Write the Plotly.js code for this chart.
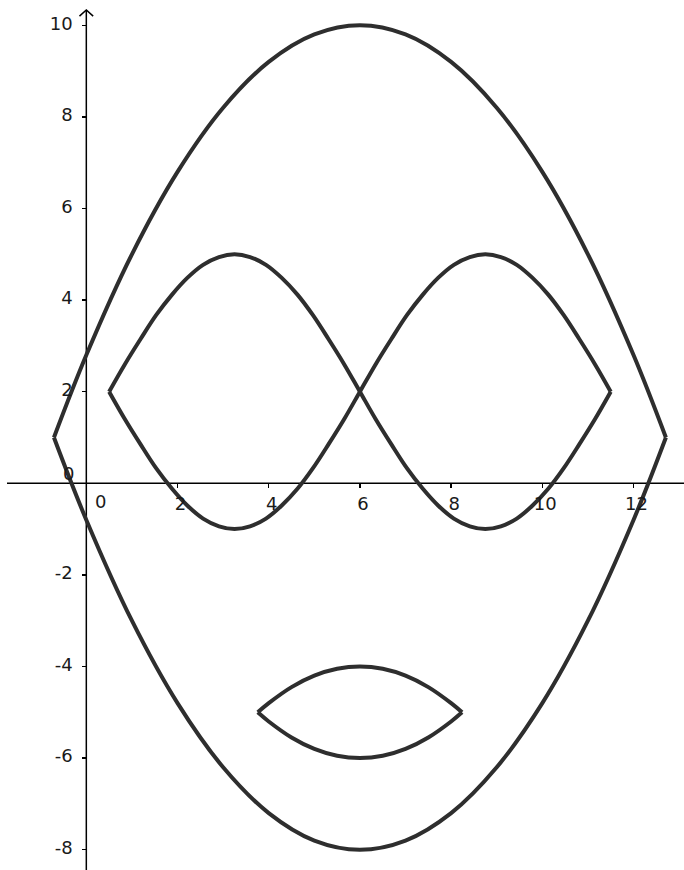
<!DOCTYPE html>
<html>
<head>
<meta charset="utf-8">
<script src="https://cdn.plot.ly/plotly-3.0.1.min.js"></script>
<style>html,body{margin:0;padding:0;background:#fff;}#chart{width:684px;height:870px;}</style>
</head>
<body>
<div id="chart"></div>
<script>
// ---- data ----
const outerTopX = [-0.71, 0, 1, 2, 3, 4, 5, 6, 7, 8, 9, 10, 11, 12, 12.71];
const outerTopY = [1.0, 2.8, 5.0, 6.8, 8.2, 9.2, 9.8, 10.0, 9.8, 9.2, 8.2, 6.8, 5.0, 2.8, 1.0];
const outerBotX = [-0.71, 0, 1, 2, 3, 4, 5, 6, 7, 8, 9, 10, 11, 12, 12.71];
const outerBotY = [1.0, -0.8, -3.0, -4.8, -6.2, -7.2, -7.8, -8.0, -7.8, -7.2, -6.2, -4.8, -3.0, -0.8, 1.0];
const waveX  = [0.5, 0.84, 1.19, 1.53, 1.88, 2.22, 2.56, 2.91, 3.25, 3.59, 3.94, 4.28, 4.63, 4.97, 5.31, 5.66,
                6, 6.34, 6.69, 7.03, 7.38, 7.72, 8.06, 8.41, 8.75, 9.09, 9.44, 9.78, 10.13, 10.47, 10.81, 11.16, 11.5];
const waveAY = [2, 2.59, 3.15, 3.67, 4.12, 4.49, 4.77, 4.94, 5, 4.94, 4.77, 4.49, 4.12, 3.67, 3.15, 2.59,
                2, 1.41, 0.85, 0.33, -0.12, -0.49, -0.77, -0.94, -1, -0.94, -0.77, -0.49, -0.12, 0.33, 0.85, 1.41, 2];
const waveBY = [2, 1.41, 0.85, 0.33, -0.12, -0.49, -0.77, -0.94, -1, -0.94, -0.77, -0.49, -0.12, 0.33, 0.85, 1.41,
                2, 2.59, 3.15, 3.67, 4.12, 4.49, 4.77, 4.94, 5, 4.94, 4.77, 4.49, 4.12, 3.67, 3.15, 2.59, 2];
const mouthX    = [3.76, 4, 4.5, 5, 5.5, 6, 6.5, 7, 7.5, 8, 8.24];
const mouthTopY = [-5.0, -4.8, -4.45, -4.2, -4.05, -4.0, -4.05, -4.2, -4.45, -4.8, -5.0];
const mouthBotY = [-5.0, -5.2, -5.55, -5.8, -5.95, -6.0, -5.95, -5.8, -5.55, -5.2, -5.0];
const xTickVals = [2, 4, 6, 8, 10, 12];
const yTickVals = [-8, -6, -4, -2, 2, 4, 6, 8, 10];

// ---- drawing ----
const curveLine = {color: '#2e2e2e', width: 4, shape: 'spline', smoothing: 1};
function curve(x, y) {
  return {x: x, y: y, type: 'scatter', mode: 'lines', line: curveLine, hoverinfo: 'skip', showlegend: false};
}
const traces = [
  curve(outerTopX, outerTopY),
  curve(outerBotX, outerBotY),
  curve(waveX, waveAY),
  curve(waveX, waveBY),
  curve(mouthX, mouthTopY),
  curve(mouthX, mouthBotY)
];

const W = 684, H = 870;
const xRange = [-1.893, 13.107];
const yRange = [-8.443, 10.552];
const x0Frac = (0 - xRange[0]) / (xRange[1] - xRange[0]);
const y0Frac = (0 - yRange[0]) / (yRange[1] - yRange[0]);
const tickFont = {family: 'DejaVu Sans, sans-serif', size: 18, color: '#1a1a1a'};

const layout = {
  width: W, height: H,
  margin: {l: 0, r: 0, t: 0, b: 0, pad: 0},
  paper_bgcolor: '#fff', plot_bgcolor: '#fff',
  showlegend: false,
  xaxis: {
    range: xRange, autorange: false, showgrid: false, zeroline: false, showline: false,
    anchor: 'free', position: y0Frac,
    tickmode: 'array', tickvals: xTickVals, ticktext: xTickVals.map(String),
    ticks: 'outside', ticklen: 4, tickwidth: 1.3, tickcolor: '#000',
    tickfont: tickFont, ticklabelshift: 3, ticklabelstandoff: 0, fixedrange: true
  },
  yaxis: {
    range: yRange, autorange: false, showgrid: false, zeroline: false, showline: false,
    anchor: 'free', position: x0Frac,
    tickmode: 'array', tickvals: yTickVals, ticktext: yTickVals.map(String),
    ticks: 'outside', ticklen: 4, tickwidth: 1.3, tickcolor: '#000',
    tickfont: tickFont, ticklabelshift: -2, ticklabelstandoff: 6, fixedrange: true
  },
  shapes: [
    {type: 'line', layer: 'below', xref: 'paper', yref: 'y', x0: 7 / W, x1: 1, y0: 0, y1: 0,
     line: {color: '#000', width: 1.5}},
    {type: 'line', layer: 'below', xref: 'x', yref: 'paper', x0: 0, x1: 0, y0: 0, y1: 1 - 10 / H,
     line: {color: '#000', width: 1.5}},
    {type: 'path', layer: 'below', xref: 'x', yref: 'y',
     path: 'M -0.15,10.20 L 0,10.334 L 0.15,10.20',
     line: {color: '#000', width: 1.5}}
  ],
  annotations: [
    {x: 0.32, y: -0.40, xref: 'x', yref: 'y', text: '0', showarrow: false,
     xanchor: 'center', yanchor: 'middle', font: tickFont},
    {x: -0.395, y: 0.22, xref: 'x', yref: 'y', text: '0', showarrow: false,
     xanchor: 'center', yanchor: 'middle', font: tickFont}
  ]
};

Plotly.newPlot('chart', traces, layout, {displayModeBar: false, staticPlot: true});
</script>
</body>
</html>
